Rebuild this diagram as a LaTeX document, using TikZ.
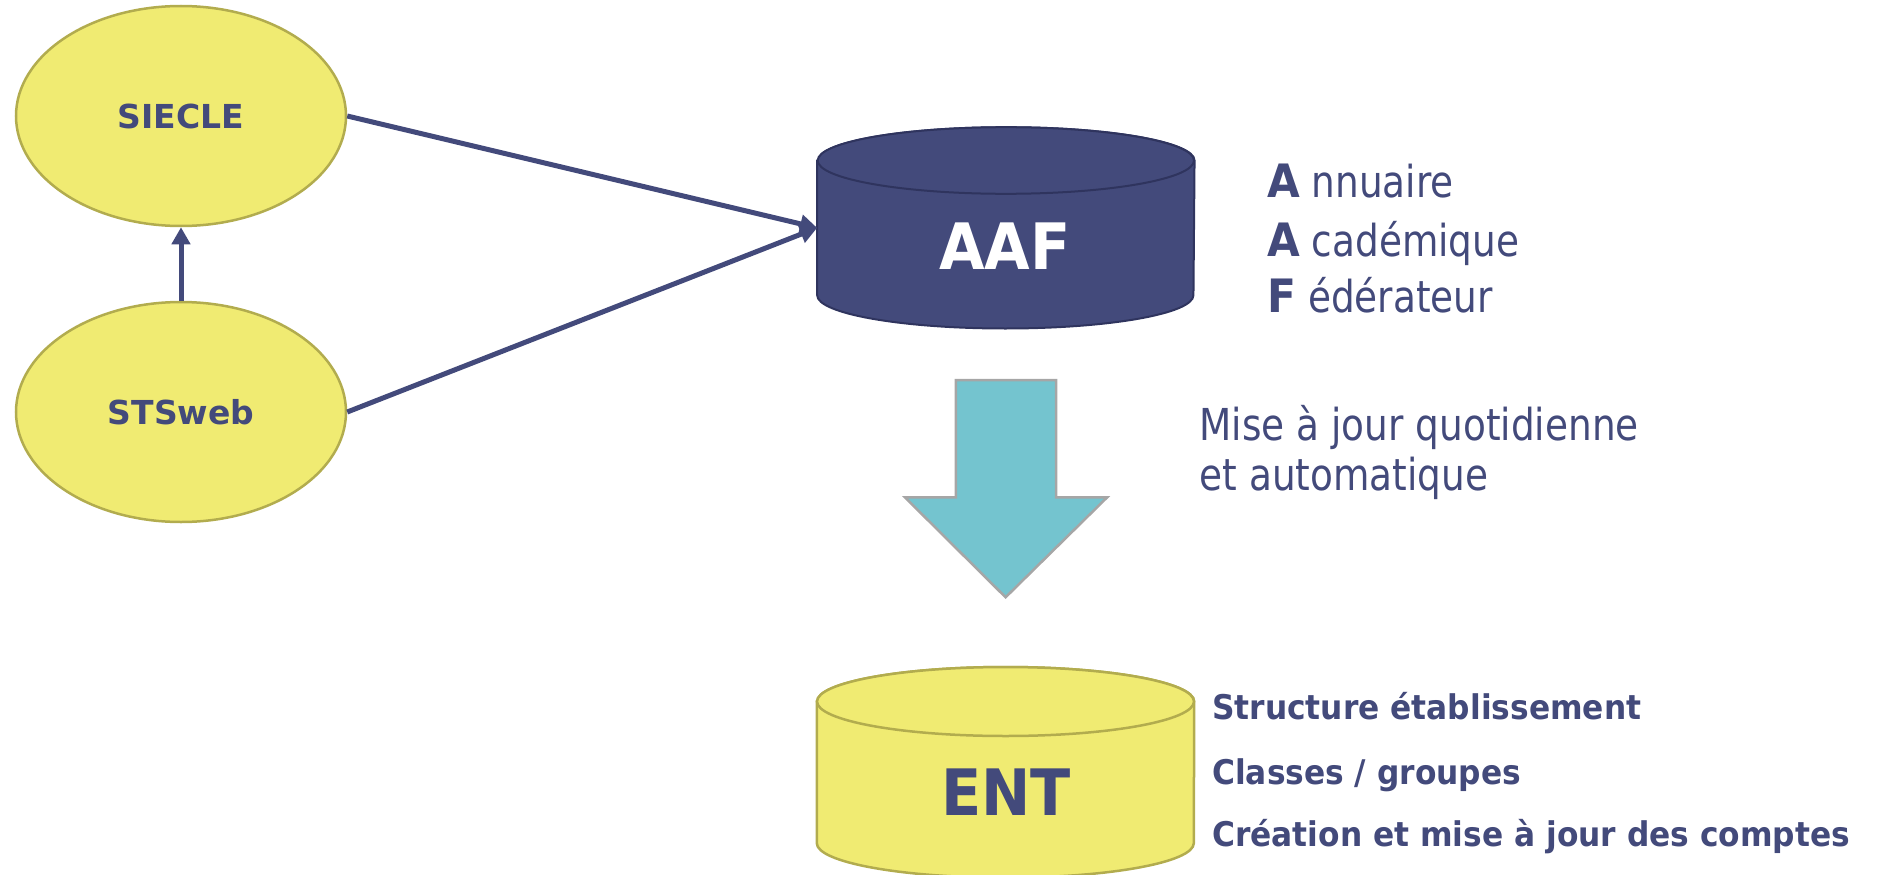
\documentclass[tikz,border=0pt]{standalone}
\usepackage{fontspec}
\setmainfont{DejaVu Sans}
\newfontfamily\tahreg[FakeStretch=0.85]{DejaVu Sans}
\newfontfamily\tahbold[FakeStretch=0.92]{DejaVu Sans}
\usetikzlibrary{shapes.geometric, arrows.meta}
\definecolor{aafblue}{HTML}{434A7B}
\definecolor{aafline}{HTML}{2F345E}
\definecolor{ovalfill}{HTML}{F0EB72}
\definecolor{ovalline}{HTML}{B2AC4E}
\definecolor{bigarrfill}{HTML}{74C4CF}
\definecolor{bigarrline}{HTML}{A6A6A6}
\begin{document}
\begin{tikzpicture}[x=1pt,y=1pt,
  oval/.style={ellipse, draw=ovalline, fill=ovalfill, line width=2.5pt,
    minimum width=330pt, minimum height=220pt, inner sep=0pt, text=aafblue,
    font=\bfseries\fontsize{33}{33}\selectfont},
  conn/.style={draw=aafblue, line width=5pt, -{Triangle[length=17pt,width=18pt]}},
  cylbox/.style={inner sep=0pt, minimum width=377pt},
  bigtxt/.style={inner sep=0pt, font=\tahbold\bfseries\fontsize{64}{64}\selectfont},
  legend/.style={inner sep=0pt, anchor=base west, text=aafblue},
  regtxt/.style={inner sep=0pt, anchor=base west, text=aafblue, font=\tahreg\fontsize{44}{50}\selectfont},
  boldtxt/.style={inner sep=0pt, anchor=base west, text=aafblue, font=\tahbold\bfseries\fontsize{34}{34}\selectfont}
]
\useasboundingbox (0,0) rectangle (1877,-875);

% source ovals
\node[oval] (siecle) at (181,-116) {SIECLE};
\node[oval] (stsweb) at (181,-412) {STSweb};

% AAF cylinder
\node[cylbox, minimum height=134.3pt] (aaf) at (1005.85,-227.85) {};
\path[fill=aafblue, draw=aafline, line width=2pt]
  (aaf.north west) -- (aaf.south west)
  arc[start angle=180, end angle=360, x radius=188.15, y radius=33.3]
  -- (aaf.north east)
  arc[start angle=0, end angle=180, x radius=188.15, y radius=33.3] -- cycle;
\draw[fill=aafblue, draw=aafline, line width=2pt] (aaf.north) ellipse[x radius=188.15, y radius=33.3];
\node[bigtxt, text=white] (aaftext) at (1005,-246.5) {AAF};

% ENT cylinder
\node[cylbox, minimum height=141.3pt] (ent) at (1005.5,-772.35) {};
\path[fill=ovalfill, draw=ovalline, line width=2.5pt]
  (ent.north west) -- (ent.south west)
  arc[start angle=180, end angle=360, x radius=188.5, y radius=34.5]
  -- (ent.north east)
  arc[start angle=0, end angle=180, x radius=188.5, y radius=34.5] -- cycle;
\draw[fill=ovalfill, draw=ovalline, line width=2.5pt] (ent.north) ellipse[x radius=188.5, y radius=34.5];
\node[bigtxt, text=aafblue] (enttext) at (1006,-792.5) {ENT};

% connectors
\draw[conn] (stsweb.north) -- (siecle.south);
\draw[conn] (siecle.east) -- (aaf.west);
\draw[conn] (stsweb.east) -- (aaf.west);

% big down arrow
\draw[fill=bigarrfill, draw=bigarrline, line width=2.5pt]
  (955.9,-380) -- (1056.2,-380) -- (1056.2,-497.3) -- (1107.2,-497.3)
  -- (1005.6,-597.3) -- (904.9,-497.3) -- (955.9,-497.3) -- cycle;

% AAF legend
\node[legend] (leg1) at (1267,-197.3) {{\tahbold\bfseries\fontsize{46}{46}\selectfont A}{\tahreg\fontsize{44}{44}\selectfont\ nnuaire}};
\node[legend] (leg2) at (1267,-256.7) {{\tahbold\bfseries\fontsize{46}{46}\selectfont A}{\tahreg\fontsize{44}{44}\selectfont\ cadémique}};
\node[legend] (leg3) at (1267,-312.7) {{\tahbold\bfseries\fontsize{46}{46}\selectfont F}{\tahreg\fontsize{44}{44}\selectfont\ édérateur}};

% update text
\node[regtxt] (maj1) at (1199.5,-440) {Mise à jour quotidienne};
\node[regtxt] (maj2) at (1199.5,-490) {et automatique};

% ENT contents
\node[boldtxt] (c1) at (1212,-719.3) {Structure établissement};
\node[boldtxt] (c2) at (1212,-784) {Classes / groupes};
\node[boldtxt] (c3) at (1212,-846.7) {Création et mise à jour des comptes};
\end{tikzpicture}
\end{document}
